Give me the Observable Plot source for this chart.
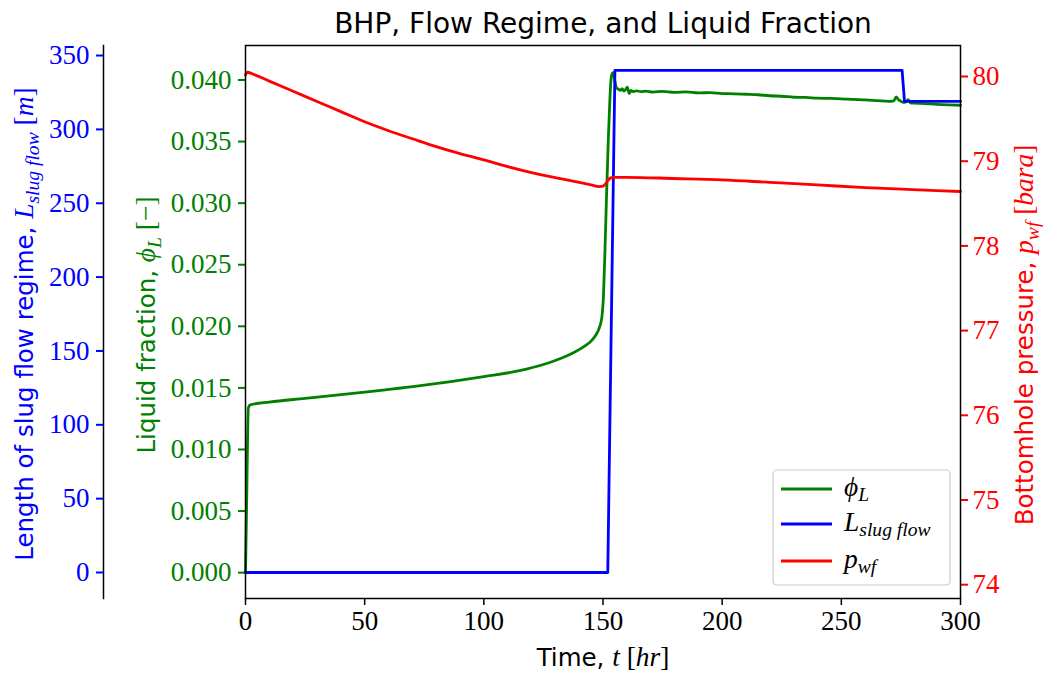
<!DOCTYPE html>
<html><head><meta charset="utf-8">
<script src="https://cdn.jsdelivr.net/npm/d3@7"></script>
<script src="https://cdn.jsdelivr.net/npm/@observablehq/plot@0.6"></script>
<style>
body{margin:0;background:#fff;}
#chart{position:relative;width:1043px;height:675px;overflow:hidden;}
#chart svg{position:absolute;left:0;top:0;}
</style></head><body><div id="chart"></div>
<script>
// ---- data ----
const xTicks = [0, 50, 100, 150, 200, 250, 300];
const liquidTicks = [0, 0.005, 0.010, 0.015, 0.020, 0.025, 0.030, 0.035, 0.040];
const slugTicks = [0, 50, 100, 150, 200, 250, 300, 350];
const pressureTicks = [74, 75, 76, 77, 78, 79, 80];

const liquidTime = [0, 0.5, 1.2, 2, 10, 25, 50, 75, 100, 115, 125, 133, 138, 142, 145, 147, 148.5, 149.5, 150.2, 150.8, 151.5, 152.2, 152.8, 153.3, 153.8, 154.3, 155, 155.7, 156.5, 157.3, 158, 158.8, 159.5, 160.2, 161, 161.8, 162.6, 164, 166, 168, 171, 175, 180, 185, 190, 195, 200, 205, 210, 215, 220, 225, 230, 235, 240, 245, 250, 255, 260, 265, 270, 272, 273, 274, 275, 276, 277, 278, 279, 281, 285, 290, 295, 300];
const liquidFraction = [0, 0.0060, 0.0134, 0.01362, 0.01385, 0.01415, 0.01465, 0.01522, 0.01592, 0.01640, 0.01690, 0.01745, 0.01790, 0.01835, 0.01880, 0.01930, 0.01990, 0.02070, 0.02250, 0.02600, 0.03070, 0.03500, 0.03800, 0.03990, 0.04050, 0.04060, 0.03990, 0.03935, 0.03925, 0.03915, 0.03930, 0.03910, 0.03922, 0.03942, 0.03890, 0.03915, 0.03905, 0.03912, 0.03905, 0.03910, 0.03902, 0.03908, 0.03900, 0.03903, 0.03895, 0.03898, 0.03890, 0.03888, 0.03884, 0.03880, 0.03872, 0.03868, 0.03860, 0.03858, 0.03852, 0.03850, 0.03847, 0.03842, 0.03838, 0.03832, 0.03826, 0.03830, 0.03862, 0.03840, 0.03828, 0.03818, 0.03822, 0.03840, 0.03815, 0.03812, 0.03808, 0.03802, 0.03798, 0.03795];

const slugTime = [0, 152, 155, 275.5, 276.5, 300];
const slugLength = [0, 0, 340, 340, 319, 319];

const pressureTime = [0, 0.8, 3, 10, 20, 30, 40, 50, 60, 70, 80, 90, 100, 110, 120, 130, 140, 145, 148.5, 150, 151, 152, 153, 154.5, 160, 180, 200, 220, 240, 260, 280, 300];
const pressure = [80.02, 80.05, 80.03, 79.945, 79.825, 79.705, 79.585, 79.465, 79.36, 79.265, 79.172, 79.09, 79.015, 78.935, 78.865, 78.805, 78.75, 78.72, 78.70, 78.705, 78.73, 78.77, 78.80, 78.81, 78.81, 78.796, 78.78, 78.75, 78.72, 78.688, 78.665, 78.642];

// ---- layout ----
const W = 1043, H = 675, ML = 245, MR = 83, MT = 45, MB = 77;
const serif = "'Liberation Serif', 'DejaVu Serif', serif";
const sans = "'DejaVu Sans', sans-serif";
const liquidData = liquidTime.map((t, i) => ({t, v: liquidFraction[i]}));
const slugData = slugTime.map((t, i) => ({t, v: slugLength[i]}));
const pressureData = pressureTime.map((t, i) => ({t, v: pressure[i]}));
const style = {background: "transparent", fontFamily: serif, fontSize: "27px", overflow: "visible"};
const chart = document.getElementById("chart");
const LW = 2.8;

// green: liquid fraction (base axes, x axis)
chart.append(Plot.plot({
  width: W, height: H, marginTop: MT, marginBottom: MB, marginLeft: ML, marginRight: MR, style,
  x: {domain: [0, 300], range: [ML, W - MR]},
  y: {domain: [-0.0021, 0.0428]},
  marks: [
    Plot.axisX(xTicks, {anchor: "bottom", tickSize: 7, tickPadding: 5, label: null, strokeWidth: 1.5, tickFormat: d => String(d)}),
    Plot.axisY(liquidTicks, {anchor: "left", color: "green", tickSize: 7, tickPadding: 7, label: null, strokeWidth: 2, tickFormat: d3.format(".3f")}),
    Plot.line(liquidData, {x: "t", y: "v", stroke: "green", strokeWidth: LW, curve: "monotone-x"})
  ]
}));

// blue: slug flow length (outer left axis)
chart.append(Plot.plot({
  width: W, height: H, marginTop: MT, marginBottom: MB, marginLeft: 103, marginRight: MR, style,
  x: {domain: [0, 300], range: [ML, W - MR], axis: null},
  y: {domain: [-17.6, 356.8]},
  marks: [
    Plot.frame({anchor: "left", stroke: "black", strokeWidth: 1.5}),
    Plot.axisY(slugTicks, {anchor: "left", color: "blue", tickSize: 7, tickPadding: 7, label: null, strokeWidth: 2, tickFormat: d => String(d)}),
    Plot.line(slugData, {x: "t", y: "v", stroke: "blue", strokeWidth: LW})
  ]
}));

// red: bottomhole pressure (right axis)
chart.append(Plot.plot({
  width: W, height: H, marginTop: MT, marginBottom: MB, marginLeft: ML, marginRight: MR, style,
  x: {domain: [0, 300], range: [ML, W - MR], axis: null},
  y: {domain: [73.837, 80.366]},
  marks: [
    Plot.axisY(pressureTicks, {anchor: "right", color: "red", tickSize: 7, tickPadding: 5, label: null, strokeWidth: 2, tickFormat: d => String(d)}),
    Plot.line(pressureData, {x: "t", y: "v", stroke: "red", strokeWidth: LW, curve: "monotone-x"}),
    Plot.frame({stroke: "black", strokeWidth: 1.5})
  ]
}));

// ---- titles, axis labels and legend ----
const svg = d3.select(chart).append("svg").attr("width", W).attr("height", H)
  .style("overflow", "visible").attr("xml:space", "preserve");

function rich(g, parts) {
  // kind: "s" sans, "i" italic serif, "r" roman serif, "sub" italic subscript
  let shifted = false;
  for (const [txt, kind] of parts) {
    const ts = g.append("tspan").text(txt);
    if (kind === "s") ts.attr("font-family", sans);
    else ts.attr("font-family", serif);
    if (kind === "i" || kind === "sub") ts.attr("font-style", "italic");
    if (kind === "sub") { ts.attr("font-size", "0.8em"); if (!shifted) { ts.attr("dy", "0.28em"); shifted = true; } }
    else {
      if (kind !== "s") ts.attr("font-size", "1.12em");
      if (shifted) { ts.attr("dy", "-0.2em"); shifted = false; }
    }
  }
}

svg.append("text").attr("x", 603).attr("y", 33).attr("text-anchor", "middle")
  .attr("font-family", sans).attr("font-size", 28).attr("fill", "black")
  .text("BHP, Flow Regime, and Liquid Fraction");

const fs = 24.5;
const lb = svg.append("text").attr("transform", "translate(33,324) rotate(-90)")
  .attr("text-anchor", "middle").attr("font-size", fs).attr("fill", "blue");
rich(lb, [["Length of slug flow regime, ", "s"], ["L", "i"], ["slug flow", "sub"], [" [", "r"], ["m", "i"], ["]", "r"]]);

const lg = svg.append("text").attr("transform", "translate(155,325) rotate(-90)")
  .attr("text-anchor", "middle").attr("font-size", fs).attr("fill", "green");
rich(lg, [["Liquid fraction, ", "s"], ["\u03D5", "i"], ["L", "sub"], [" [\u2212]", "r"]]);

const lr = svg.append("text").attr("transform", "translate(1033,335) rotate(-90)")
  .attr("text-anchor", "middle").attr("font-size", fs).attr("fill", "red");
rich(lr, [["Bottomhole pressure, ", "s"], ["p", "i"], ["wf", "sub"], [" [", "r"], ["bara", "i"], ["]", "r"]]);

const lx = svg.append("text").attr("x", 603).attr("y", 666)
  .attr("text-anchor", "middle").attr("font-size", fs).attr("fill", "black");
rich(lx, [["Time, ", "s"], ["t", "i"], [" [", "r"], ["hr", "i"], ["]", "r"]]);

// legend
const leg = svg.append("g");
leg.append("rect").attr("x", 773).attr("y", 470).attr("width", 177).attr("height", 115).attr("rx", 4)
  .attr("fill", "white").attr("fill-opacity", 0.8).attr("stroke", "#cccccc").attr("stroke-width", 1.2);
const entries = [
  {c: "green", y: 489, parts: [["\u03D5", "i"], ["L", "sub"]]},
  {c: "blue", y: 524, parts: [["L", "i"], ["slug flow", "sub"]]},
  {c: "red", y: 561, parts: [["p", "i"], ["wf", "sub"]]}
];
for (const e of entries) {
  leg.append("line").attr("x1", 781).attr("x2", 832).attr("y1", e.y).attr("y2", e.y)
    .attr("stroke", e.c).attr("stroke-width", LW);
  const t = leg.append("text").attr("x", 844).attr("y", e.y + 7).attr("font-size", 24.5).attr("fill", "black");
  rich(t, e.parts);
}
</script></body></html>
